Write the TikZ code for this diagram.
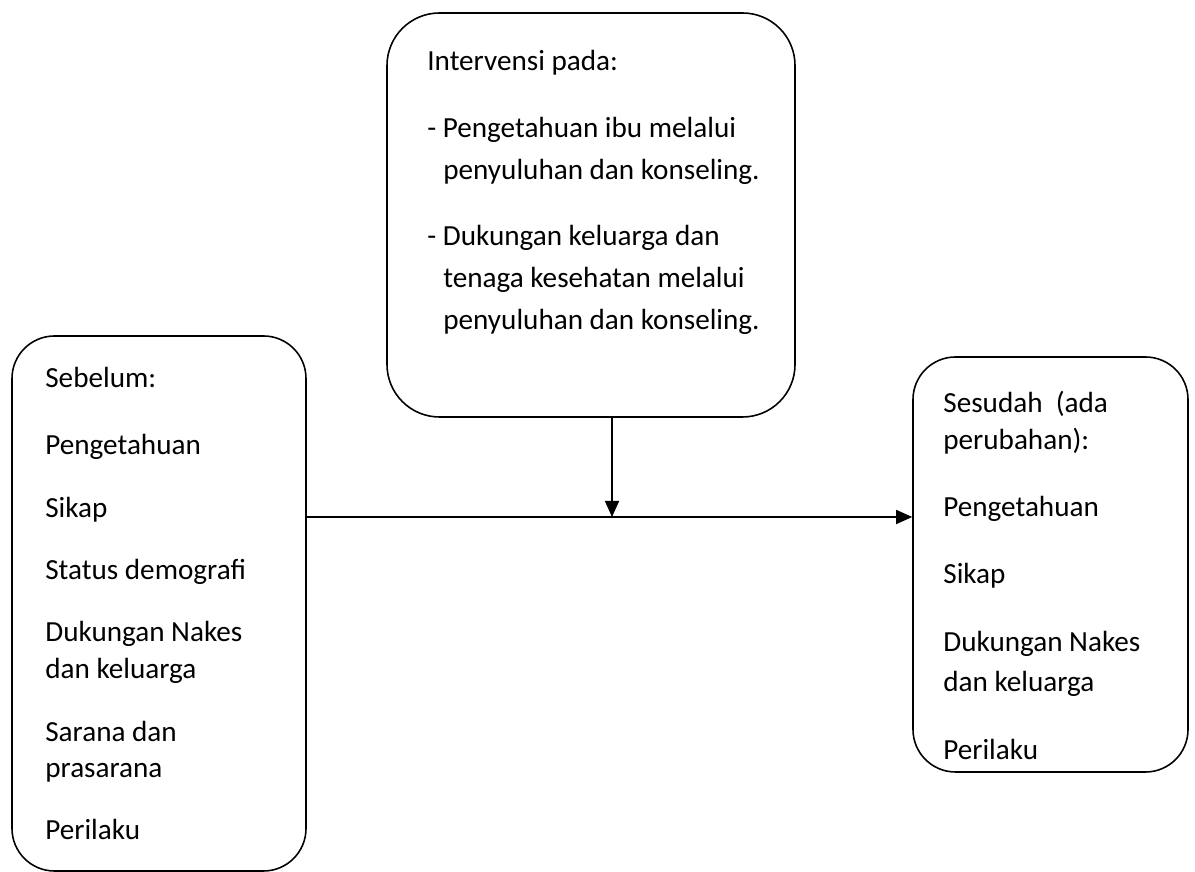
\documentclass[tikz,border=0pt]{standalone}
\usepackage{fontspec}
\setmainfont{Carlito}
\usetikzlibrary{arrows.meta}

\tikzset{
  box/.style={shape=rectangle, draw=black, line width=0.9pt, rounded corners=0.85cm, inner sep=0pt},
  txt/.style={shape=rectangle, draw=none, anchor=base west, inner sep=0pt},
  arr/.style={line width=0.9pt, -{Triangle[length=0.32cm, width=0.28cm]}}
}

\begin{document}
\begin{tikzpicture}[font=\fontsize{16.6}{20}\selectfont]
%%%%%%%%%%%%%%%%%%%%%%%%%%%%%%%%%%%%%%%%%%% HELP LINES
%\draw[help lines] (0,0) grid +(24,18);
\useasboundingbox (0,0) rectangle (23.9,17.44);

%%%%%%%%%%%%%%%%%%%%%%%%%%%%%%%%%%%%%%%%%%% boxes
\node[box, rounded corners=1.05cm, minimum width=8.16cm, minimum height=8.08cm](intervensi) at (11.82,13.14){};
\node[box, minimum width=5.88cm, minimum height=10.7cm](sebelum) at (3.18,5.37){};
\node[box, minimum width=5.5cm, minimum height=8.3cm](sesudah) at (21.01,6.15){};

%%%%% intervensi
\node[txt](i1) at (8.54,16.02){Intervensi pada:};
\node[txt](i2) at (8.54,14.68){- Pengetahuan ibu melalui};
\node[txt](i3) at (8.86,13.84){penyuluhan dan konseling.};
\node[txt](i4) at (8.54,12.52){- Dukungan keluarga dan};
\node[txt](i5) at (8.86,11.68){tenaga kesehatan melalui};
\node[txt](i6) at (8.86,10.84){penyuluhan dan konseling.};

%%%%% sebelum
\node[txt](a1) at (0.9,9.68){Sebelum:};
\node[txt](a2) at (0.9,8.34){Pengetahuan};
\node[txt](a3) at (0.9,7.08){Sikap};
\node[txt](a4) at (0.9,5.84){Status demografi};
\node[txt](a5) at (0.9,4.60){Dukungan Nakes};
\node[txt](a6) at (0.9,3.86){dan keluarga};
\node[txt](a7) at (0.9,2.60){Sarana dan};
\node[txt](a8) at (0.9,1.88){prasarana};
\node[txt](a9) at (0.9,0.64){Perilaku};

%%%%% sesudah
\node[txt](b1) at (18.86,9.18){Sesudah~ (ada};
\node[txt](b2) at (18.86,8.44){perubahan):};
\node[txt](b3) at (18.86,7.10){Pengetahuan};
\node[txt](b4) at (18.86,5.76){Sikap};
\node[txt](b5) at (18.86,4.40){Dukungan Nakes};
\node[txt](b6) at (18.86,3.60){dan keluarga};
\node[txt](b7) at (18.86,2.24){Perilaku};

%%%%% arrows
\coordinate (jn) at (12.24,7.1);
\draw[arr] (sebelum.east |- jn) -- (sesudah.west |- jn);
\draw[arr] (intervensi.south -| jn) -- (jn);
\end{tikzpicture}
\end{document}
